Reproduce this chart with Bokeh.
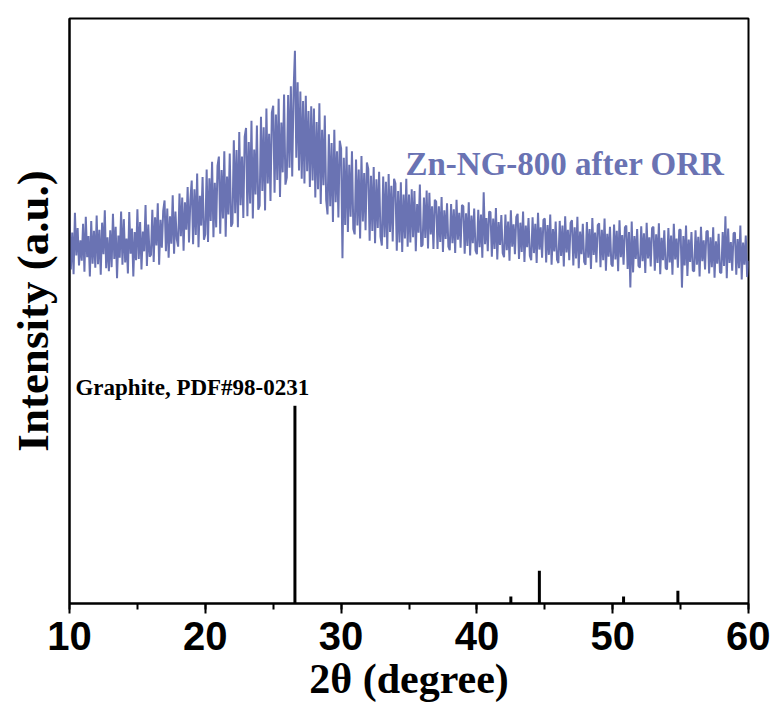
from bokeh.plotting import figure
from bokeh.models import Range1d, Label, SingleIntervalTicker, FixedTicker
from bokeh.embed import file_html
from bokeh.resources import INLINE

# ---- data ----
two_theta_start = 10.0
two_theta_step = 0.1
intensity = [
    65.9, 57.1, 63.4, 56.3, 66.8, 59.5, 64.2, 57.8, 62.1, 58.6,  # 10
    64.9, 56.7, 66.1, 59.2, 62.8, 55.9, 65.4, 58.1, 63.7, 57.4,  # 11
    66.3, 58.0, 63.9, 56.2, 65.1, 59.7, 67.2, 57.3, 62.6, 56.8,  # 12
    63.8, 57.5, 66.6, 58.9, 64.4, 55.6, 62.9, 59.1, 67.0, 57.9,  # 13
    65.7, 58.3, 62.4, 56.4, 66.9, 59.8, 64.1, 55.9, 63.5, 58.7,  # 14
    67.4, 58.9, 65.2, 57.1, 63.6, 60.2, 68.1, 57.7, 64.8, 59.3,  # 15
    59.6, 67.3, 58.4, 66.0, 61.2, 68.4, 57.9, 65.6, 60.8, 67.1,  # 16
    68.9, 60.2, 67.5, 59.1, 66.2, 61.5, 69.8, 59.8, 67.0, 62.3,  # 17
    61.0, 70.1, 62.8, 69.4, 60.3, 68.6, 63.9, 71.2, 61.7, 69.0,  # 18
    72.3, 61.4, 70.8, 63.0, 73.5, 60.9, 69.7, 64.6, 72.9, 62.2,  # 19
    63.1, 74.2, 61.8, 72.7, 65.4, 75.5, 62.6, 71.9, 64.3, 74.8,  # 20
    76.4, 63.2, 74.1, 65.8, 77.3, 62.7, 73.0, 66.5, 76.9, 64.4,  # 21
    65.0, 79.2, 66.7, 77.5, 64.3, 80.6, 68.1, 76.4, 65.9, 79.8,  # 22
    81.3, 66.2, 78.9, 68.4, 82.5, 65.8, 77.6, 69.9, 81.7, 67.3,  # 23
    68.0, 83.2, 70.5, 81.4, 67.2, 84.6, 71.8, 80.3, 68.8, 83.9,  # 24
    85.1, 70.2, 83.6, 72.4, 86.3, 69.5, 82.2, 73.7, 87.0, 71.6,  # 25
    72.8, 86.9, 74.5, 88.4, 73.0, 87.6, 94.5, 76.2, 89.1, 74.0,  # 26
    87.5, 72.6, 85.9, 71.8, 86.8, 73.9, 84.2, 71.2, 85.0, 72.3,  # 27
    84.6, 69.4, 82.3, 70.8, 85.5, 68.3, 81.0, 71.5, 83.4, 69.0,  # 28
    66.5, 80.2, 67.9, 78.7, 65.2, 81.0, 68.6, 77.3, 66.0, 79.1,  # 29
    77.8, 59.0, 76.2, 64.7, 78.1, 63.5, 75.0, 66.1, 77.3, 64.0,  # 30
    63.1, 75.9, 64.6, 74.2, 62.4, 76.5, 65.3, 73.6, 63.8, 75.4,  # 31
    74.3, 62.0, 73.1, 63.7, 74.6, 61.6, 72.5, 64.2, 73.8, 62.7,  # 32
    61.2, 73.0, 62.6, 72.1, 60.6, 73.4, 63.5, 71.4, 61.9, 72.6,  # 33
    71.8, 60.3, 70.5, 61.7, 72.0, 60.1, 69.9, 62.4, 72.6, 61.0,  # 34
    69.9, 61.7, 70.8, 62.6, 70.5, 60.2, 68.3, 63.4, 71.6, 61.0,  # 35
    61.3, 69.4, 62.5, 70.6, 60.7, 70.2, 63.1, 67.9, 60.6, 69.0,  # 36
    68.7, 60.6, 67.9, 61.8, 69.5, 60.1, 67.2, 62.3, 68.4, 61.0,  # 37
    60.4, 68.3, 61.6, 67.4, 59.9, 69.0, 62.2, 66.8, 60.8, 68.1,  # 38
    67.9, 59.8, 66.7, 61.1, 68.6, 59.5, 66.3, 61.6, 67.5, 60.3,  # 39
    59.7, 67.3, 60.9, 66.5, 59.1, 70.3, 61.4, 65.9, 60.2, 67.0,  # 40
    66.9, 59.3, 65.8, 60.6, 67.6, 58.8, 65.2, 61.3, 66.4, 59.9,  # 41
    59.2, 66.5, 60.4, 65.3, 58.6, 67.2, 61.0, 64.8, 59.7, 66.1,  # 42
    66.6, 58.9, 65.1, 60.1, 67.0, 58.4, 64.6, 60.9, 65.9, 59.4,  # 43
    58.7, 66.0, 59.9, 64.9, 58.2, 66.8, 60.5, 64.3, 59.1, 65.6,  # 44
    65.8, 58.3, 64.7, 59.6, 66.5, 57.9, 64.0, 60.2, 65.3, 58.8,  # 45
    58.2, 65.4, 59.4, 64.6, 57.6, 66.2, 60.0, 63.9, 58.7, 65.1,  # 46
    65.5, 57.8, 64.3, 59.0, 66.1, 57.3, 63.6, 59.7, 64.9, 58.4,  # 47
    57.9, 65.2, 59.1, 64.0, 57.2, 65.9, 59.6, 63.4, 58.3, 64.7,  # 48
    65.0, 57.5, 63.9, 58.7, 65.8, 56.9, 63.2, 59.3, 64.4, 58.0,  # 49
    57.6, 64.8, 58.8, 63.7, 56.8, 65.5, 59.2, 63.0, 57.9, 64.3,  # 50
    64.6, 57.2, 63.5, 54.0, 65.3, 56.6, 62.8, 58.9, 64.0, 57.7,  # 51
    57.4, 64.5, 58.5, 63.3, 56.5, 65.1, 59.0, 62.6, 57.6, 64.2,  # 52
    64.4, 56.9, 63.1, 58.2, 65.0, 56.3, 62.5, 58.7, 63.8, 57.3,  # 53
    57.1, 64.2, 58.3, 62.9, 56.2, 64.9, 58.8, 62.4, 57.4, 63.9,  # 54
    63.9, 54.0, 62.8, 57.8, 64.6, 56.0, 62.2, 58.4, 63.5, 56.9,  # 55
    56.8, 63.8, 57.9, 62.7, 55.9, 64.4, 58.5, 62.1, 57.1, 63.6,  # 56
    63.7, 56.4, 62.6, 57.5, 64.3, 55.7, 61.9, 58.1, 63.2, 56.6,  # 57
    56.5, 63.5, 57.7, 66.2, 55.6, 64.1, 58.2, 61.8, 56.9, 63.3,  # 58
    63.4, 56.2, 62.3, 57.3, 64.6, 55.4, 61.7, 57.9, 62.9, 55.8,  # 59
    58.6,                                                        # 60
]
two_theta = [two_theta_start + two_theta_step * i for i in range(len(intensity))]

pdf_positions = [26.6, 42.5, 44.6, 50.8, 54.8]
pdf_heights = [33.8, 1.2, 5.6, 1.2, 2.2]
pdf_baseline = [0, 0, 0, 0, 0]

x_ticks_interval = 10
sample_label = "Zn-NG-800 after ORR"
ref_label = "Graphite, PDF#98-0231"
x_title = "2θ (degree)"
y_title = "Intensity (a.u.)"

# ---- figure ----
p = figure(width=770, height=704, output_backend="svg", toolbar_location=None,
           x_range=Range1d(10, 60), y_range=Range1d(0, 100),
           min_border_left=69, min_border_right=22, min_border_top=18,
           min_border_bottom=101)
p.background_fill_color = "white"
p.border_fill_color = "white"
p.outline_line_color = "black"
p.outline_line_width = 2
p.grid.visible = False

ax = p.xaxis[0]
ax.ticker = SingleIntervalTicker(interval=x_ticks_interval, num_minor_ticks=2)
ax.axis_line_width = 2
ax.major_tick_line_width = 2
ax.minor_tick_line_width = 2
ax.major_tick_in = 0
ax.major_tick_out = 10
ax.minor_tick_in = 0
ax.minor_tick_out = 6
ax.major_label_text_font = "Liberation Sans"
ax.major_label_text_font_style = "bold"
ax.major_label_text_font_size = "40px"
ax.major_label_text_color = "black"
ax.major_label_standoff = 8
ax.axis_label = x_title
ax.axis_label_text_font = "Liberation Serif"
ax.axis_label_text_font_style = "bold"
ax.axis_label_text_font_size = "42px"
ax.axis_label_text_color = "black"
ax.axis_label_standoff = 3

ay = p.yaxis[0]
ay.ticker = FixedTicker(ticks=[])
ay.axis_line_width = 2
ay.major_tick_out = 0
ay.major_tick_in = 0
ay.minor_tick_out = 0
ay.minor_tick_in = 0
ay.major_label_standoff = 0
ay.axis_label = y_title
ay.axis_label_text_font = "Liberation Serif"
ay.axis_label_text_font_style = "bold"
ay.axis_label_text_font_size = "45px"
ay.axis_label_text_color = "black"
ay.axis_label_standoff = 12

p.line(two_theta, intensity, line_color="#6a73b3", line_width=2)
p.segment(x0=pdf_positions, y0=pdf_baseline, x1=pdf_positions, y1=pdf_heights,
          line_color="black", line_width=3)

p.add_layout(Label(x=34.74, y=75.2, text=sample_label, text_font="Liberation Serif",
                   text_font_style="bold", text_font_size="33px", text_color="#6a73b3",
                   text_baseline="alphabetic", text_align="left"))
p.add_layout(Label(x=10.44, y=36.9, text=ref_label, text_font="Liberation Serif",
                   text_font_style="bold", text_font_size="23px", text_color="black",
                   text_baseline="alphabetic", text_align="left"))

open("out.html", "w").write(file_html(p, INLINE))
